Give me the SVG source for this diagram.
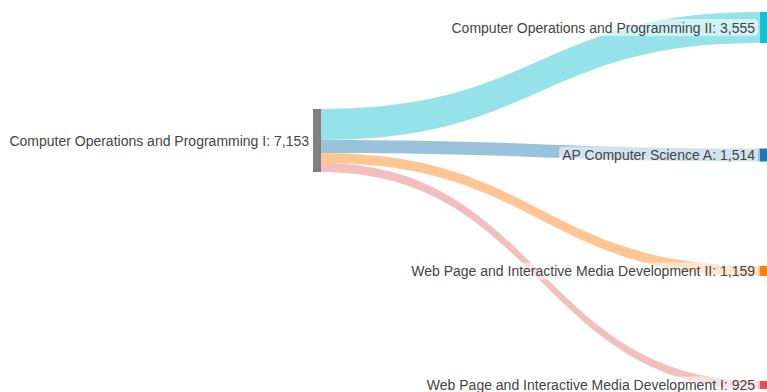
<svg xmlns="http://www.w3.org/2000/svg" width="767" height="392" viewBox="0 0 767 392">
<style>
.lbl{font-family:"Liberation Sans",Arial,sans-serif;font-size:14px;fill:#444;text-anchor:end;dominant-baseline:central}
.bg{fill:#fff;fill-opacity:0.55}
.link{stroke:none}
</style>
<rect width="767" height="392" fill="#fff"/>
<g id="links">
<path class="link" fill="#17becf" fill-opacity="0.45" d="M321,109 C540,109 540,12 760,12 L760,43 C540,43 540,140 321,140 Z"/>
<path class="link" fill="#1f77b4" fill-opacity="0.45" d="M321,140 C540,140 540,148.5 760,148.5 L760,161.5 C540,161.5 540,153 321,153 Z"/>
<path class="link" fill="#ff7f0e" fill-opacity="0.45" d="M321,153 C540,153 540,266 760,266 L760,276 C540,276 540,163 321,163 Z"/>
<path class="link" fill="#d62728" fill-opacity="0.3" d="M321,163 C540,163 540,381 760,381 L760,389 C540,389 540,172 321,172 Z"/>
</g>
<g id="node-cop1">
<rect x="313" y="109" width="8" height="63" fill="#7f7f7f"/>
<text class="lbl" x="309" y="140.5">Computer Operations and Programming I: 7,153</text>
</g>
<g id="node-cop2">
<rect x="760" y="12" width="7" height="31" fill="#17becf"/>
<rect class="bg" x="449" y="19" width="309" height="17" rx="4"/>
<text class="lbl" x="755" y="27.5">Computer Operations and Programming II: 3,555</text>
</g>
<g id="node-apcsa">
<rect x="760" y="148.5" width="7" height="13" fill="#1f77b4"/>
<rect class="bg" x="559" y="146.5" width="199" height="17" rx="4"/>
<text class="lbl" x="755" y="155">AP Computer Science A: 1,514</text>
</g>
<g id="node-web2">
<rect x="760" y="266" width="7" height="10" fill="#ff7f0e"/>
<rect class="bg" x="409" y="262.5" width="349" height="17" rx="4"/>
<text class="lbl" x="755" y="271">Web Page and Interactive Media Development II: 1,159</text>
</g>
<g id="node-web1">
<rect x="760" y="381" width="7" height="8" fill="#d62728" fill-opacity="0.8"/>
<rect class="bg" x="424" y="376.5" width="334" height="17" rx="4"/>
<text class="lbl" x="755" y="385">Web Page and Interactive Media Development I: 925</text>
</g>
</svg>
